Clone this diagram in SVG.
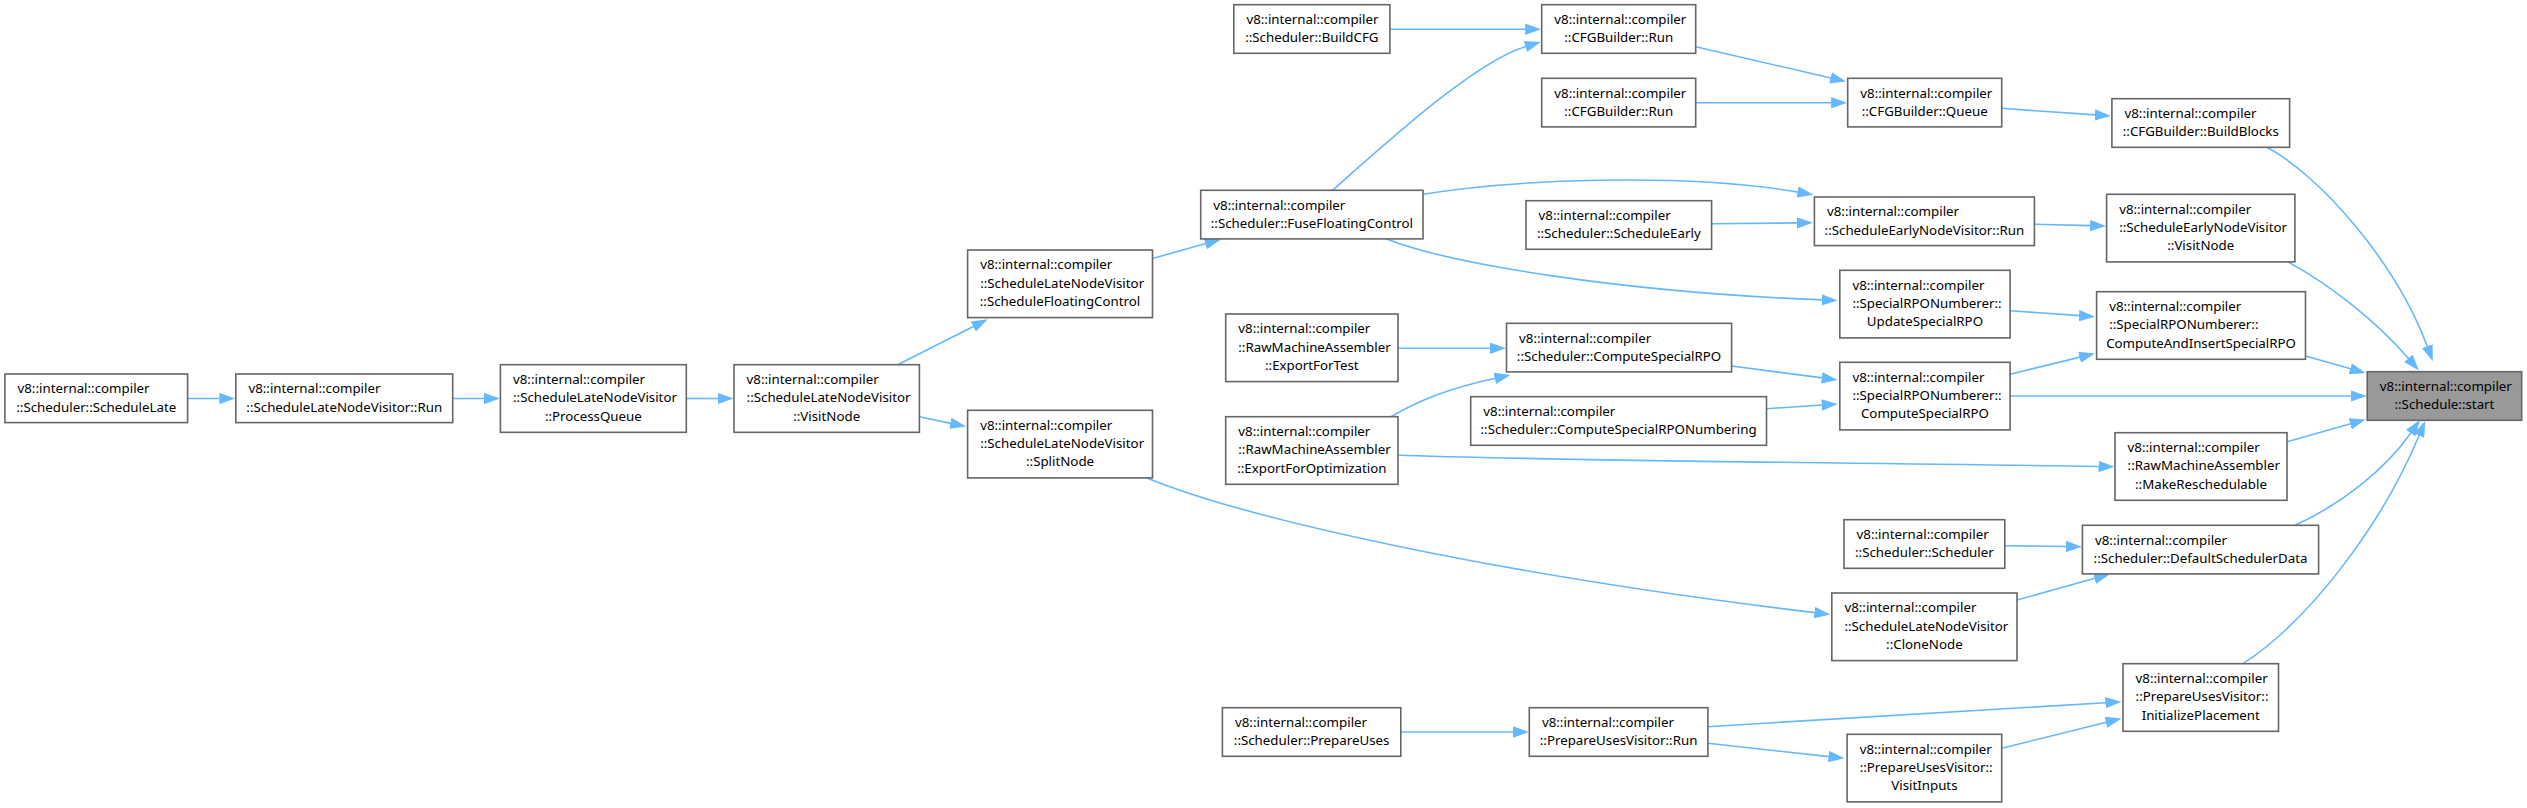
<svg xmlns="http://www.w3.org/2000/svg" width="2527" height="808" viewBox="0 0 2527 808">
<style>
.n rect{fill:#ffffff;stroke:#666666;stroke-width:1.6}
.n.hl rect{fill:#999999}
.n text{font-family:"Noto Sans","DejaVu Sans",sans-serif;font-size:13.3px;fill:#000000}
.n .c{text-anchor:middle}
#edges path{fill:none;stroke:#63b8ff;stroke-width:1.6;marker-end:url(#ah)}
</style>
<defs>
<marker id="ah" markerUnits="userSpaceOnUse" viewBox="0 0 16 11.4" refX="0.5" refY="5.7" markerWidth="16" markerHeight="11.4" orient="auto">
<path d="M0,0 L16,5.7 L0,11.4 z" fill="#63b8ff"/>
</marker>
</defs>
<rect x="0" y="0" width="2527" height="808" fill="#ffffff"/>
<g id="edges">
<path d="M187.6,398.5 L219.8,398.5"/>
<path d="M452.7,398.5 L484.4,398.5"/>
<path d="M686.3,398.5 L718,398.5"/>
<path d="M897.7,364.7 L973.8,326.3"/>
<path d="M919.4,416.7 L950.9,423.4"/>
<path d="M1152.5,258.5 L1205.9,243.6"/>
<path d="M1332.5,190.3 C1392.5,137.2 1476,61.4 1525.9,46.4"/>
<path d="M1389.9,29.3 L1525.7,29.3"/>
<path d="M1695.7,46.8 L1831,78"/>
<path d="M1695.7,102.7 L1831.7,102.7"/>
<path d="M2001.7,108.3 L2095.4,114.9"/>
<path d="M2267,147.3 C2320,175.6 2395.9,262 2427.4,346.7"/>
<path d="M1423,194.3 C1510,180 1680,172 1798.1,192.1"/>
<path d="M1711.6,223.8 L1797.4,222.9"/>
<path d="M2034.4,224.2 L2090.6,225.6"/>
<path d="M2288,261.9 C2330,285 2375,320 2408.7,358.7"/>
<path d="M1386.7,238.9 C1450,264 1620,292 1822.2,299.9"/>
<path d="M2010.1,310.7 L2079.5,315.6"/>
<path d="M2305.5,356 L2350.7,368.8"/>
<path d="M1398,348.3 L1490.5,348.3"/>
<path d="M1391,416.7 C1420,400 1450,388 1495.3,378.2"/>
<path d="M1731.6,366 L1822.3,377.9"/>
<path d="M1766.5,408.7 L1822.2,405"/>
<path d="M2010.1,374.2 L2080,357.1"/>
<path d="M2010.1,396 L2351.2,396"/>
<path d="M1398,455 C1500,460 1800,462 2099,466.5"/>
<path d="M2287,441.7 L2350.7,423.7"/>
<path d="M2295,525.3 C2340,505 2385,470 2411,432.7"/>
<path d="M2004.8,545.7 L2066.4,546.5"/>
<path d="M1147,477.9 C1250,520 1500,575 1815,612.6"/>
<path d="M2017,600 L2094.9,578.3"/>
<path d="M2243,663.7 C2313,618 2384,520 2419.2,435.2"/>
<path d="M1400.8,732 L1513.3,732"/>
<path d="M1707.9,726.7 C1850,718 2000,709 2105.9,702.7"/>
<path d="M1707.9,743.3 L1829.1,756.6"/>
<path d="M2001.7,748.3 L2106.4,722.2"/>
</g>
<g id="n1" class="n"><rect x="4.9" y="374" width="182.7" height="48.6"/><text x="17.5" y="393.4">v8::internal::compiler</text><text class="c" x="96.25" y="411.6">::Scheduler::ScheduleLate</text></g>
<g id="n2" class="n"><rect x="235.8" y="374" width="216.9" height="48.6"/><text x="248.4" y="393.4">v8::internal::compiler</text><text class="c" x="344.25" y="411.6">::ScheduleLateNodeVisitor::Run</text></g>
<g id="n3" class="n"><rect x="500.4" y="364.7" width="185.9" height="67.6"/><text x="513" y="384.1">v8::internal::compiler</text><text x="513" y="402.3">::ScheduleLateNodeVisitor</text><text class="c" x="593.35" y="420.5">::ProcessQueue</text></g>
<g id="n4" class="n"><rect x="734" y="364.7" width="185.4" height="67.6"/><text x="746.6" y="384.1">v8::internal::compiler</text><text x="746.6" y="402.3">::ScheduleLateNodeVisitor</text><text class="c" x="826.7" y="420.5">::VisitNode</text></g>
<g id="n5" class="n"><rect x="967.6" y="250" width="184.9" height="67.6"/><text x="980.2" y="269.4">v8::internal::compiler</text><text x="980.2" y="287.6">::ScheduleLateNodeVisitor</text><text class="c" x="1060.05" y="305.8">::ScheduleFloatingControl</text></g>
<g id="n6" class="n"><rect x="967.6" y="410.3" width="184.9" height="67.6"/><text x="980.2" y="429.7">v8::internal::compiler</text><text x="980.2" y="447.9">::ScheduleLateNodeVisitor</text><text class="c" x="1060.05" y="466.1">::SplitNode</text></g>
<g id="n7" class="n"><rect x="1200.7" y="190.3" width="222.3" height="48.6"/><text x="1213.3" y="209.7">v8::internal::compiler</text><text class="c" x="1311.85" y="227.9">::Scheduler::FuseFloatingControl</text></g>
<g id="n8" class="n"><rect x="1233.8" y="4.7" width="156.1" height="48.6"/><text x="1246.4" y="24.1">v8::internal::compiler</text><text class="c" x="1311.85" y="42.3">::Scheduler::BuildCFG</text></g>
<g id="n9" class="n"><rect x="1541.7" y="4.7" width="154" height="48.6"/><text x="1554.3" y="24.1">v8::internal::compiler</text><text class="c" x="1618.7" y="42.3">::CFGBuilder::Run</text></g>
<g id="n10" class="n"><rect x="1541.7" y="78.3" width="154" height="48.6"/><text x="1554.3" y="97.7">v8::internal::compiler</text><text class="c" x="1618.7" y="115.9">::CFGBuilder::Run</text></g>
<g id="n11" class="n"><rect x="1847.7" y="78.3" width="154" height="48.6"/><text x="1860.3" y="97.7">v8::internal::compiler</text><text class="c" x="1924.7" y="115.9">::CFGBuilder::Queue</text></g>
<g id="n12" class="n"><rect x="2111.9" y="98.7" width="177.7" height="48.6"/><text x="2124.5" y="118.1">v8::internal::compiler</text><text class="c" x="2200.75" y="136.3">::CFGBuilder::BuildBlocks</text></g>
<g id="n13" class="n"><rect x="1526" y="200.7" width="185.6" height="48.6"/><text x="1538.6" y="220.1">v8::internal::compiler</text><text class="c" x="1618.8" y="238.3">::Scheduler::ScheduleEarly</text></g>
<g id="n14" class="n"><rect x="1814.4" y="197" width="220" height="48.6"/><text x="1827" y="216.4">v8::internal::compiler</text><text class="c" x="1924.4" y="234.6">::ScheduleEarlyNodeVisitor::Run</text></g>
<g id="n15" class="n"><rect x="2106.6" y="194.3" width="188.3" height="67.6"/><text x="2119.2" y="213.7">v8::internal::compiler</text><text x="2119.2" y="231.9">::ScheduleEarlyNodeVisitor</text><text class="c" x="2200.75" y="250.1">::VisitNode</text></g>
<g id="n16" class="n"><rect x="1839.8" y="270.3" width="170.3" height="67.6"/><text x="1852.4" y="289.7">v8::internal::compiler</text><text x="1852.4" y="307.9">::SpecialRPONumberer::</text><text class="c" x="1924.95" y="326.1">UpdateSpecialRPO</text></g>
<g id="n17" class="n"><rect x="2096.6" y="291.7" width="208.9" height="67.6"/><text x="2109.2" y="311.1">v8::internal::compiler</text><text x="2109.2" y="329.3">::SpecialRPONumberer::</text><text class="c" x="2201.05" y="347.5">ComputeAndInsertSpecialRPO</text></g>
<g id="n18" class="n"><rect x="1225.7" y="314" width="172.3" height="67.6"/><text x="1238.3" y="333.4">v8::internal::compiler</text><text x="1238.3" y="351.6">::RawMachineAssembler</text><text class="c" x="1311.85" y="369.8">::ExportForTest</text></g>
<g id="n19" class="n"><rect x="1506.5" y="323.3" width="225.1" height="48.6"/><text x="1519.1" y="342.7">v8::internal::compiler</text><text class="c" x="1619.05" y="360.9">::Scheduler::ComputeSpecialRPO</text></g>
<g id="n20" class="n"><rect x="1839.8" y="362.3" width="170.3" height="67.6"/><text x="1852.4" y="381.7">v8::internal::compiler</text><text x="1852.4" y="399.9">::SpecialRPONumberer::</text><text class="c" x="1924.95" y="418.1">ComputeSpecialRPO</text></g>
<g id="n21" class="n"><rect x="1470.7" y="396.7" width="295.8" height="48.6"/><text x="1483.3" y="416.1">v8::internal::compiler</text><text class="c" x="1618.6" y="434.3">::Scheduler::ComputeSpecialRPONumbering</text></g>
<g id="n22" class="n"><rect x="1225.7" y="416.7" width="172.3" height="67.6"/><text x="1238.3" y="436.1">v8::internal::compiler</text><text x="1238.3" y="454.3">::RawMachineAssembler</text><text class="c" x="1311.85" y="472.5">::ExportForOptimization</text></g>
<g id="n23" class="n"><rect x="2115" y="432.7" width="172" height="67.6"/><text x="2127.6" y="452.1">v8::internal::compiler</text><text x="2127.6" y="470.3">::RawMachineAssembler</text><text class="c" x="2201" y="488.5">::MakeReschedulable</text></g>
<g id="n24" class="n hl"><rect x="2367.2" y="371.7" width="154.5" height="48.6"/><text x="2379.8" y="391.1">v8::internal::compiler</text><text class="c" x="2444.45" y="409.3">::Schedule::start</text></g>
<g id="n25" class="n"><rect x="1844" y="519.7" width="160.8" height="48.6"/><text x="1856.6" y="539.1">v8::internal::compiler</text><text class="c" x="1924.4" y="557.3">::Scheduler::Scheduler</text></g>
<g id="n26" class="n"><rect x="2082.4" y="525.3" width="236.2" height="48.6"/><text x="2095" y="544.7">v8::internal::compiler</text><text class="c" x="2200.5" y="562.9">::Scheduler::DefaultSchedulerData</text></g>
<g id="n27" class="n"><rect x="1831.8" y="593" width="185.2" height="67.6"/><text x="1844.4" y="612.4">v8::internal::compiler</text><text x="1844.4" y="630.6">::ScheduleLateNodeVisitor</text><text class="c" x="1924.4" y="648.8">::CloneNode</text></g>
<g id="n28" class="n"><rect x="1222.4" y="707.7" width="178.4" height="48.6"/><text x="1235" y="727.1">v8::internal::compiler</text><text class="c" x="1311.6" y="745.3">::Scheduler::PrepareUses</text></g>
<g id="n29" class="n"><rect x="1529.3" y="707.7" width="178.6" height="48.6"/><text x="1541.9" y="727.1">v8::internal::compiler</text><text class="c" x="1618.6" y="745.3">::PrepareUsesVisitor::Run</text></g>
<g id="n30" class="n"><rect x="1847.1" y="734.3" width="154.6" height="67.6"/><text x="1859.7" y="753.7">v8::internal::compiler</text><text x="1859.7" y="771.9">::PrepareUsesVisitor::</text><text class="c" x="1924.4" y="790.1">VisitInputs</text></g>
<g id="n31" class="n"><rect x="2123" y="663.7" width="155.5" height="67.6"/><text x="2135.6" y="683.1">v8::internal::compiler</text><text x="2135.6" y="701.3">::PrepareUsesVisitor::</text><text class="c" x="2200.75" y="719.5">InitializePlacement</text></g>
</svg>
